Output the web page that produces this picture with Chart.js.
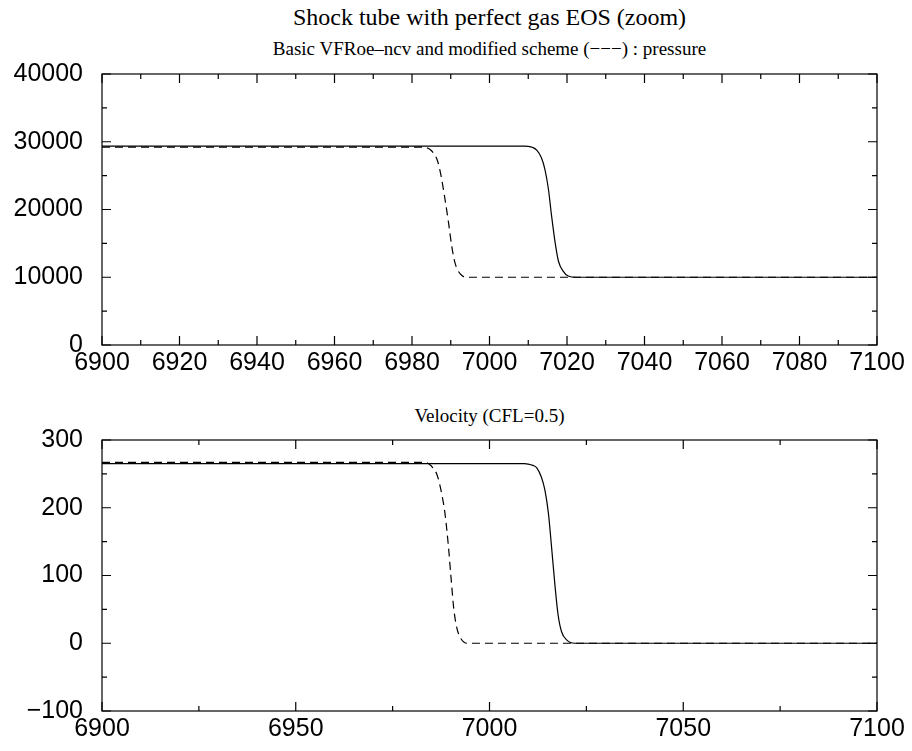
<!DOCTYPE html>
<html>
<head>
<meta charset="utf-8">
<script src="https://cdn.jsdelivr.net/npm/chart.js@4.4.1/dist/chart.umd.min.js"></script>
<style>
  body { margin: 0; background: #fff; }
  .wrap { position: relative; width: 912px; height: 751px; background: #fff; }
  canvas { position: absolute; left: 0; }
  .ttl { position: absolute; left: 102px; width: 775px; text-align: center;
         font-family: "Liberation Serif", "Times New Roman", serif; color: #000; white-space: nowrap; }
</style>
</head>
<body>
<div class="wrap">
  <div class="ttl" style="top:4px;font-size:24px;">Shock tube with perfect gas EOS (zoom)</div>
  <div class="ttl" style="top:38px;font-size:19px;">Basic VFRoe–ncv and modified scheme (−−−) : pressure</div>
  <div class="ttl" style="top:405px;font-size:19px;">Velocity (CFL=0.5)</div>
  <canvas id="pressureChart" width="912" height="345" style="top:40px;"></canvas>
  <canvas id="velocityChart" width="912" height="345" style="top:406px;"></canvas>
</div>
<script>
// ========================
// DATA
// ========================
// pressure, basic scheme (solid)
const pressureXBasic = [6900, 7009, 7010, 7011.2, 7012.2, 7013.4, 7014.3, 7015.2, 7016.0, 7016.9, 7017.8, 7019.0, 7020.3, 7022.5, 7100];
const pressureBasic  = [29340, 29340, 29320, 29150, 28760, 27640, 25940, 23030, 19160, 15270, 12360, 10910, 10180, 10000, 10000];
// pressure, modified scheme (dashed)
const pressureXModified = [6900, 6983, 6984.4, 6985.5, 6986.6, 6987.5, 6988.5, 6989.4, 6990.2, 6991.1, 6992.4, 6994.1, 7100];
const pressureModified  = [29200, 29200, 28950, 28360, 27150, 24970, 21570, 18180, 14790, 12120, 10520, 10000, 10000];

// velocity, basic scheme (solid)
const velocityXBasic = [6900, 7009, 7010, 7011.2, 7012.2, 7013.4, 7014.3, 7015.2, 7016.0, 7016.9, 7017.7, 7018.6, 7019.9, 7022.0, 7100];
const velocityBasic  = [265, 265, 264.5, 262.5, 259, 245, 226, 192, 143, 85, 42, 17, 5, 0, 0];
// velocity, modified scheme (dashed)
const velocityXModified = [6900, 6983, 6984.3, 6985.4, 6986.5, 6987.4, 6988.5, 6989.4, 6990.1, 6990.8, 6991.6, 6992.6, 6994.2, 7100];
const velocityModified  = [267, 267, 265, 259, 248, 228, 192, 143, 95, 50, 22, 7, 0, 0];

// axis ranges / tick steps
const pressureXRange = [6900, 7100], pressureXStep = 20;
const pressureYRange = [0, 40000],   pressureYStep = 10000;
const velocityXRange = [6900, 7100], velocityXStep = 50;
const velocityYRange = [-100, 300],  velocityYStep = 100;

// ========================
// HELPERS
// ========================
function toPoints(xs, ys) {
  return xs.map((x, i) => ({ x: x, y: ys[i] }));
}

const tickFont = { family: "'Liberation Sans', Arial, sans-serif", size: 25 };

// box + inward major/minor ticks on all four sides
const frameTicks = {
  id: "frameTicks",
  afterDraw(chart) {
    const ctx = chart.ctx;
    const a = chart.chartArea;
    const xs = chart.scales.x, ys = chart.scales.y;
    const major = 9, minor = 5;
    ctx.save();
    ctx.strokeStyle = "#000";
    ctx.lineWidth = 1.2;
    ctx.strokeRect(a.left, a.top, a.right - a.left, a.bottom - a.top);
    ctx.beginPath();
    const xv = xs.ticks.map(t => t.value);
    xv.forEach((v, i) => {
      const p = xs.getPixelForValue(v);
      ctx.moveTo(p, a.bottom); ctx.lineTo(p, a.bottom - major);
      ctx.moveTo(p, a.top); ctx.lineTo(p, a.top + major);
      if (i < xv.length - 1) {
        const m = xs.getPixelForValue((v + xv[i + 1]) / 2);
        ctx.moveTo(m, a.bottom); ctx.lineTo(m, a.bottom - minor);
        ctx.moveTo(m, a.top); ctx.lineTo(m, a.top + minor);
      }
    });
    const yv = ys.ticks.map(t => t.value);
    yv.forEach((v, i) => {
      const p = ys.getPixelForValue(v);
      ctx.moveTo(a.left, p); ctx.lineTo(a.left + major, p);
      ctx.moveTo(a.right, p); ctx.lineTo(a.right - major, p);
      if (i < yv.length - 1) {
        const m = ys.getPixelForValue((v + yv[i + 1]) / 2);
        ctx.moveTo(a.left, m); ctx.lineTo(a.left + minor, m);
        ctx.moveTo(a.right, m); ctx.lineTo(a.right - minor, m);
      }
    });
    ctx.stroke();
    ctx.restore();
  }
};

function makeChart(id, basic, modified, xRange, xStep, yRange, yStep) {
  const ctx = document.getElementById(id).getContext("2d");
  return new Chart(ctx, {
    type: "scatter",
    data: {
      datasets: [
        {
          label: "Basic VFRoe-ncv",
          data: basic,
          showLine: true,
          borderColor: "#000",
          borderWidth: 1.2,
          pointRadius: 0,
          cubicInterpolationMode: "monotone"
        },
        {
          label: "Modified scheme",
          data: modified,
          showLine: true,
          borderColor: "#000",
          borderWidth: 1.2,
          borderDash: [8, 5],
          pointRadius: 0,
          cubicInterpolationMode: "monotone"
        }
      ]
    },
    options: {
      responsive: false,
      animation: false,
      layout: { padding: { top: 30, right: 35, left: 0, bottom: 0 } },
      plugins: { legend: { display: false }, tooltip: { enabled: false } },
      scales: {
        x: {
          type: "linear",
          min: xRange[0], max: xRange[1],
          border: { display: false },
          grid: { display: false, drawTicks: false },
          ticks: {
            stepSize: xStep, color: "#000", font: tickFont, padding: 3,
            maxRotation: 0, autoSkip: false,
            callback: v => String(v)
          },
          afterFit(scale) { scale.height = 40; }
        },
        y: {
          type: "linear",
          min: yRange[0], max: yRange[1],
          border: { display: false },
          grid: { display: false, drawTicks: false },
          ticks: {
            stepSize: yStep, color: "#000", font: tickFont, padding: 19,
            autoSkip: false,
            callback: v => String(v).replace("-", "\u2212")
          },
          afterFit(scale) { scale.width = 102; }
        }
      }
    },
    plugins: [frameTicks]
  });
}

// ========================
// BUILD CHARTS
// ========================
makeChart("pressureChart",
  toPoints(pressureXBasic, pressureBasic),
  toPoints(pressureXModified, pressureModified),
  pressureXRange, pressureXStep, pressureYRange, pressureYStep);

makeChart("velocityChart",
  toPoints(velocityXBasic, velocityBasic),
  toPoints(velocityXModified, velocityModified),
  velocityXRange, velocityXStep, velocityYRange, velocityYStep);
</script>
</body>
</html>
